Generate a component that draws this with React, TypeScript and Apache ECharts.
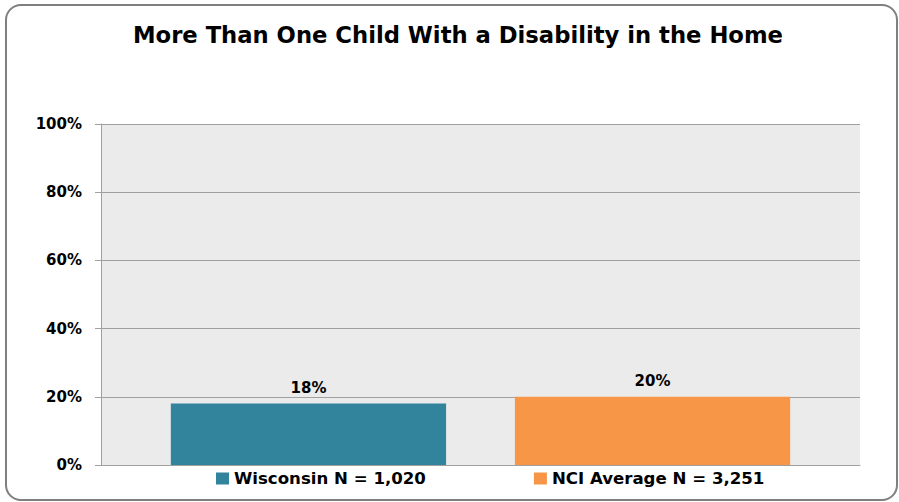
import React, { useEffect, useRef } from "react";
import * as echarts from "echarts";

const categories = [""];
const seriesNames = ["Wisconsin N = 1,020", "NCI Average N = 3,251"];
const wisconsinValues = [18];
const nciValues = [20];
const yTicks = [0, 20, 40, 60, 80, 100];

const FONT = "DejaVu Sans";

export default function App() {
  const ref = useRef<HTMLDivElement>(null);
  useEffect(() => {
    document.body.style.margin = "0";
    const chart = echarts.init(ref.current!, null, { renderer: "svg" });
    chart.setOption({
      animation: false,
      backgroundColor: "#ffffff",
      title: {
        text: "More Than One Child With a Disability in the Home",
        left: 128,
        top: 18,
        textStyle: { fontFamily: FONT, fontWeight: "bold", fontSize: 22.7, color: "#000" },
      },
      graphic: [
        {
          type: "rect",
          shape: { x: 6, y: 5, width: 891, height: 495, r: 15 },
          style: { fill: "none", stroke: "#7f7f7f", lineWidth: 2 },
          silent: true,
          z: -1,
        },
      ],
      legend: {
        data: seriesNames,
        left: 211,
        top: 465,
        itemWidth: 13,
        itemHeight: 12,
        itemGap: 108,
        icon: "rect",
        textStyle: { fontFamily: FONT, fontWeight: "bold", fontSize: 16.6, color: "#000" },
      },
      grid: {
        left: 101,
        right: 39,
        top: 124,
        bottom: 37,
        show: true,
        backgroundColor: "#ebebeb",
        borderWidth: 0,
      },
      xAxis: {
        type: "category",
        data: categories,
        axisLine: { show: true, lineStyle: { color: "#a0a0a0", width: 1 } },
        axisTick: { show: false },
        axisLabel: { show: false },
      },
      yAxis: {
        type: "value",
        min: yTicks[0],
        max: yTicks[yTicks.length - 1],
        interval: 20,
        axisLine: { show: true, lineStyle: { color: "#a0a0a0", width: 1 } },
        axisTick: { show: true, length: 6, lineStyle: { color: "#a0a0a0" } },
        splitLine: { show: true, lineStyle: { color: "#a0a0a0", width: 1 } },
        axisLabel: {
          formatter: "{value}%",
          margin: 19,
          fontFamily: FONT,
          fontWeight: "bold",
          fontSize: 15,
          color: "#000",
        },
      },
      series: [
        {
          name: seriesNames[0],
          type: "bar",
          data: wisconsinValues,
          barGap: "25%",
          barCategoryGap: "18.4%",
          itemStyle: { color: "#31849b" },
          label: {
            show: true,
            position: "top",
            distance: 8,
            formatter: "{c}%",
            fontFamily: FONT,
            fontWeight: "bold",
            fontSize: 15,
            color: "#000",
          },
        },
        {
          name: seriesNames[1],
          type: "bar",
          data: nciValues,
          itemStyle: { color: "#f79646" },
          label: {
            show: true,
            position: "top",
            distance: 8,
            formatter: "{c}%",
            fontFamily: FONT,
            fontWeight: "bold",
            fontSize: 15,
            color: "#000",
          },
        },
      ],
    });
    return () => chart.dispose();
  }, []);
  return <div ref={ref} style={{ width: 899, height: 502 }} />;
}
